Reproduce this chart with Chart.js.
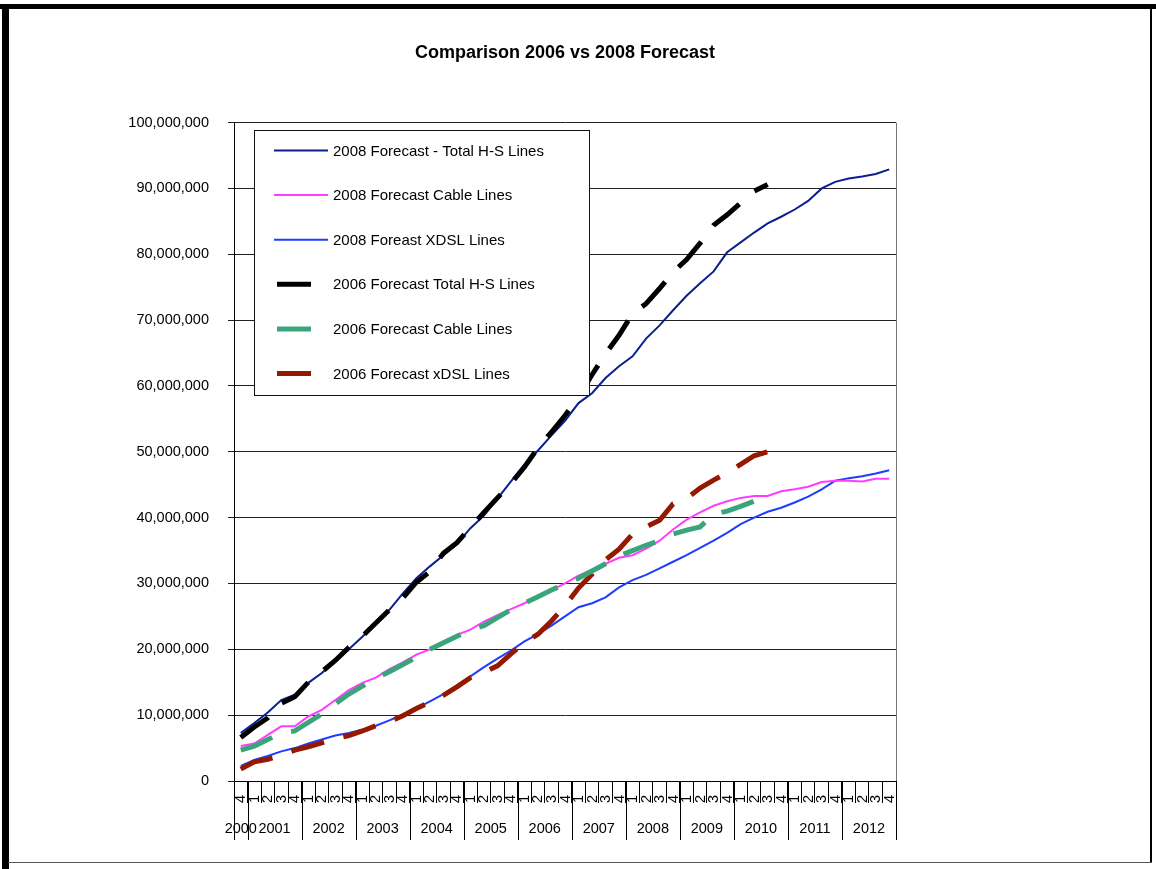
<!DOCTYPE html>
<html>
<head>
<meta charset="utf-8">
<title>Comparison 2006 vs 2008 Forecast</title>
<script src="https://cdn.jsdelivr.net/npm/chart.js@4.4.1/dist/chart.umd.min.js"></script>
<style>
  html, body { margin: 0; padding: 0; background: #fff; }
  #wrap { position: relative; width: 1156px; height: 869px; }
  canvas { display: block; }
</style>
</head>
<body>
<div id="wrap"><canvas id="chart" width="1156" height="869"></canvas></div>
<script>
// Quarter tick labels, 2000 Q4 through 2012 Q4
const quarterLabels = [
  '4',
  '1','2','3','4', '1','2','3','4', '1','2','3','4', '1','2','3','4',
  '1','2','3','4', '1','2','3','4', '1','2','3','4', '1','2','3','4',
  '1','2','3','4', '1','2','3','4', '1','2','3','4', '1','2','3','4'
];
const yearLabels = ['2000','2001','2002','2003','2004','2005','2006','2007','2008','2009','2010','2011','2012'];

const seriesLabels = [
  '2008 Forecast - Total H-S Lines',
  '2008 Forecast Cable Lines',
  '2008 Foreast XDSL Lines',
  '2006 Forecast Total H-S Lines',
  '2006 Forecast Cable Lines',
  '2006 Forecast xDSL Lines'
];

// Line counts in millions
const total2008 = [7.3, 8.8, 10.4, 12.3, 13.1, 14.9, 16.4, 18.2, 20.0, 21.9, 23.9, 26.0, 28.5, 30.8, 32.6, 34.3,
  36.0, 38.4, 40.3, 42.9, 45.5, 48.0, 50.2, 52.5, 54.7, 57.4, 58.9, 61.2, 63.0, 64.5, 67.2, 69.2,
  71.5, 73.7, 75.6, 77.4, 80.3, 81.8, 83.3, 84.7, 85.7, 86.8, 88.1, 90.0, 91.0, 91.5, 91.8, 92.2, 92.9];
const cable2008 = [5.3, 5.7, 7.0, 8.3, 8.3, 9.8, 10.8, 12.3, 13.8, 14.9, 15.7, 17.0, 18.0, 19.2, 20.0, 21.1,
  22.2, 23.0, 24.2, 25.2, 26.1, 27.0, 28.0, 29.0, 30.0, 31.2, 32.1, 33.0, 33.9, 34.3, 35.3, 36.5,
  38.2, 39.7, 40.8, 41.8, 42.5, 43.0, 43.3, 43.3, 44.0, 44.3, 44.7, 45.4, 45.6, 45.6, 45.5, 45.9, 45.9];
const xdsl2008 = [2.3, 3.2, 3.8, 4.5, 5.0, 5.7, 6.3, 6.9, 7.3, 7.8, 8.4, 9.2, 10.1, 11.0, 12.1, 13.2,
  14.5, 15.9, 17.3, 18.6, 19.8, 21.2, 22.3, 23.6, 25.0, 26.4, 27.0, 27.9, 29.4, 30.5, 31.3, 32.3,
  33.3, 34.3, 35.4, 36.5, 37.7, 39.0, 40.0, 40.9, 41.5, 42.3, 43.2, 44.3, 45.6, 46.0, 46.3, 46.7, 47.2];
const total2006 = [6.6, 8.2, 9.6, 11.8, 12.8, 15.0, 16.6, 18.3, 20.3, 22.0, 24.0, 26.0, 27.8, 30.2, 31.8, 34.6,
  36.2, 38.5, 40.8, 43.0, 45.2, 47.7, 50.6, 53.0, 55.5, 58.3, 61.7, 64.9, 67.7, 71.0, 72.5, 74.8,
  77.3, 79.2, 81.7, 84.4, 86.0, 87.8, 89.6, 90.6];
const cable2006 = [4.7, 5.3, 6.3, 7.3, 7.6, 8.9, 10.2, 11.7, 13.2, 14.4, 15.6, 16.6, 17.7, 18.8, 20.0, 21.0,
  22.0, 22.9, 23.6, 24.8, 26.0, 27.0, 28.0, 29.0, 29.9, 30.8, 31.9, 33.0, 34.2, 35.0, 35.8, 36.5,
  37.5, 38.1, 38.6, 40.5, 41.0, 41.7, 42.5, 43.1];
const xdsl2006 = [1.8, 2.9, 3.3, 3.9, 4.7, 5.2, 5.8, 6.4, 6.9, 7.6, 8.4, 9.0, 9.9, 11.0, 12.0, 13.0,
  14.3, 15.7, 16.5, 17.5, 19.3, 21.0, 22.3, 24.3, 26.6, 29.3, 31.4, 33.6, 35.2, 37.5, 38.6, 39.6,
  42.1, 42.9, 44.5, 45.7, 46.8, 48.1, 49.4, 50.0, 50.6];

const MILLION = 1e6;
const FONT = "'Liberation Sans', Arial, Helvetica, sans-serif";
const toLines = arr => arr.map(v => v * MILLION);

const solid = (label, values, color) => ({
  label, data: toLines(values), borderColor: color, backgroundColor: color,
  borderWidth: 2, pointRadius: 0, tension: 0, fill: false, order: 2
});
const dashed = (label, values, color) => ({
  label, data: toLines(values), borderColor: color, backgroundColor: color,
  borderWidth: 5, borderDash: [34, 20], borderCapStyle: 'butt',
  pointRadius: 0, tension: 0, fill: false, order: 1
});

const datasets = [
  solid(seriesLabels[0], total2008, '#0c1f8f'),
  solid(seriesLabels[1], cable2008, '#ff3dff'),
  solid(seriesLabels[2], xdsl2008, '#1f3cff'),
  dashed(seriesLabels[3], total2006, '#000000'),
  dashed(seriesLabels[4], cable2006, '#3aa57a'),
  dashed(seriesLabels[5], xdsl2006, '#941900')
];

// Two-level category axis: rotated quarter numbers, year groups with separators
const yearAxis = {
  id: 'yearAxis',
  afterDraw(chart) {
    const { ctx, chartArea } = chart;
    const xs = chart.scales.x;
    const half = (xs.getPixelForValue(1) - xs.getPixelForValue(0)) / 2;
    const base = chartArea.bottom;
    ctx.save();
    ctx.fillStyle = '#000';
    ctx.font = '14.5px ' + FONT;
    ctx.textAlign = 'center';
    ctx.textBaseline = 'middle';
    quarterLabels.forEach((q, i) => {
      const x = xs.getPixelForValue(i);
      ctx.save();
      ctx.translate(x + 0.5, base + 18);
      ctx.rotate(-Math.PI / 2);
      ctx.fillText(q, 0, 0);
      ctx.restore();
    });
    // group quarters into years: a new year starts at quarter '1'
    const groups = [];
    quarterLabels.forEach((q, i) => {
      if (i === 0 || q === '1') groups.push({ start: i, end: i });
      else groups[groups.length - 1].end = i;
    });
    ctx.strokeStyle = '#000';
    ctx.lineWidth = 1;
    groups.forEach((g, k) => {
      const left = xs.getPixelForValue(g.start) - half;
      const right = xs.getPixelForValue(g.end) + half;
      [left, right].forEach(px => {
        const x = Math.round(px) + 0.5;
        ctx.beginPath();
        ctx.moveTo(x, base);
        ctx.lineTo(x, base + 59);
        ctx.stroke();
      });
      ctx.fillText(yearLabels[k], (left + right) / 2, base + 48);
    });
    ctx.restore();
  }
};

// Legend box placed inside the plot area
const insideLegend = {
  id: 'insideLegend',
  afterDatasetsDraw(chart) {
    const ctx = chart.ctx;
    ctx.save();
    ctx.fillStyle = '#fff';
    ctx.fillRect(254.5, 130.5, 335, 265);
    ctx.strokeStyle = '#111';
    ctx.lineWidth = 1;
    ctx.strokeRect(254.5, 130.5, 335, 265);
    chart.data.datasets.forEach((ds, i) => {
      const y = 150.5 + i * 44.6;
      const isDashed = ds.borderDash && ds.borderDash.length;
      ctx.beginPath();
      ctx.setLineDash(isDashed ? ds.borderDash : []);
      ctx.lineCap = 'butt';
      ctx.lineWidth = ds.borderWidth;
      ctx.strokeStyle = ds.borderColor;
      ctx.moveTo(isDashed ? 277 : 274, y);
      ctx.lineTo(328, y);
      ctx.stroke();
      ctx.setLineDash([]);
      ctx.fillStyle = '#000';
      ctx.font = '15px ' + FONT;
      ctx.textAlign = 'left';
      ctx.textBaseline = 'middle';
      ctx.fillText(ds.label, 333, y + 1);
    });
    ctx.restore();
  }
};

// Plot-area right edge and outer frame
const frame = {
  id: 'frame',
  afterDraw(chart) {
    const { ctx, chartArea } = chart;
    ctx.save();
    ctx.strokeStyle = '#777';
    ctx.lineWidth = 1;
    ctx.beginPath();
    const rx = Math.round(chartArea.right) + 0.5;
    ctx.moveTo(rx, chartArea.top);
    ctx.lineTo(rx, chartArea.bottom);
    ctx.stroke();
    ctx.fillStyle = '#000';
    ctx.fillRect(0, 4, 1156, 5);
    ctx.fillRect(2, 4, 7, 865);
    ctx.fillRect(1150, 4, 2, 859);
    ctx.fillStyle = '#555';
    ctx.fillRect(8, 862, 1144, 1);
    ctx.restore();
  }
};

new Chart(document.getElementById('chart'), {
  type: 'line',
  data: { labels: quarterLabels, datasets },
  plugins: [yearAxis, insideLegend, frame],
  options: {
    responsive: false,
    animation: false,
    devicePixelRatio: 1,
    layout: { padding: { left: 0, right: 260, top: 0, bottom: 28 } },
    plugins: {
      legend: { display: false },
      tooltip: { enabled: false },
      title: {
        display: true,
        fullSize: false,
        text: 'Comparison 2006 vs 2008 Forecast',
        color: '#000',
        font: { family: FONT, size: 18, weight: 'bold', lineHeight: 1.2 },
        padding: { top: 42, bottom: 59 }
      }
    },
    scales: {
      x: {
        type: 'category',
        offset: true,
        afterFit: s => { s.height = 60; },
        grid: { offset: true, drawOnChartArea: false, drawTicks: true, tickLength: 22, color: '#000', lineWidth: 1 },
        border: { display: true, color: '#000', width: 1 },
        ticks: { display: false, autoSkip: false }
      },
      y: {
        min: 0,
        max: 100 * MILLION,
        afterFit: s => { s.width = 234; },
        grid: { color: '#222', lineWidth: 1, drawTicks: true, tickLength: 6 },
        border: { display: true, color: '#000', width: 1 },
        ticks: {
          stepSize: 10 * MILLION,
          padding: 19,
          color: '#000',
          font: { family: FONT, size: 14.5 },
          callback: v => Number(v).toLocaleString('en-US')
        }
      }
    }
  }
});
</script>
</body>
</html>
